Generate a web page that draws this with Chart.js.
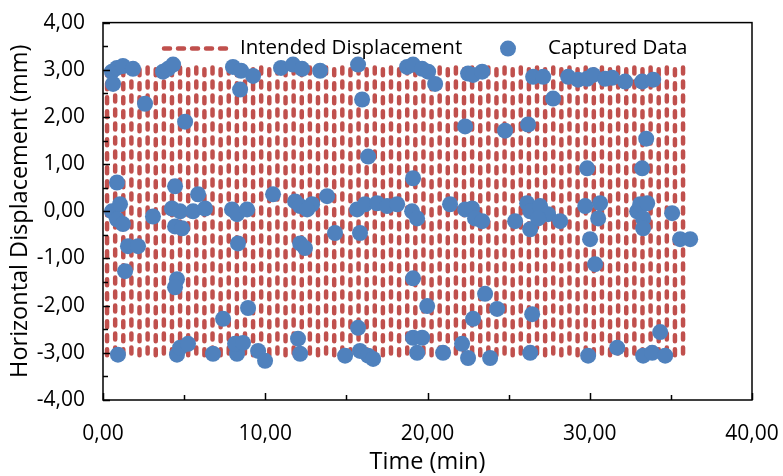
<!DOCTYPE html>
<html>
<head>
<meta charset="utf-8">
<title>Horizontal displacement vs time</title>
<script src="https://cdn.jsdelivr.net/npm/chart.js@4/dist/chart.umd.min.js"></script>
<style>
  html, body { margin: 0; padding: 0; background: #fff; }
  #wrap { width: 783px; height: 476px; position: relative; }
</style>
</head>
<body>
<div id="wrap"><canvas id="chart"></canvas></div>
<script>
'use strict';

/* ---- Data ---- */

// Intended displacement: each half-cycle shows as one vertical stroke
// between the two extremes; times (min) of the strokes
const intendedTime = [
  0.25, 0.75, 1.25, 1.75, 2.25, 2.75, 3.25, 3.75, 4.25, 4.75,
  5.25, 5.75, 6.25, 6.75, 7.25, 7.75, 8.25, 8.75, 9.25, 9.75,
  10.25, 10.75, 11.25, 11.75, 12.25, 12.75, 13.25, 13.75, 14.25, 14.75,
  15.25, 15.75, 16.25, 16.75, 17.25, 17.75, 18.25, 18.75, 19.25, 19.75,
  20.25, 20.75, 21.25, 21.75, 22.25, 22.75, 23.25, 23.75, 24.25, 24.75,
  25.25, 25.75, 26.25, 26.75, 27.25, 27.75, 28.25, 28.75, 29.25, 29.75,
  30.25, 30.75, 31.25, 31.75, 32.25, 32.75, 33.25, 33.75, 34.25, 34.75,
  35.25, 35.75
];
// extremes of the imposed motion (mm)
const intendedExtremes = [-3.05, 3.05];

// Captured data (time in min, displacement in mm)
const capturedTime = [
  0.55, 0.62, 0.86, 1.23, 1.85, 2.59, 3.70, 4.01, 4.32, 5.06,
  8.01, 8.51, 9.25, 8.45, 10.97, 11.71, 12.27, 13.38, 15.72, 15.97,
  16.34, 18.74, 19.11, 19.67, 20.04, 20.47, 22.32, 22.50, 22.81, 23.37,
  24.78, 26.20, 26.51, 27.13, 27.74, 28.67, 29.28, 29.84, 30.21, 30.95,
  31.38, 32.18, 33.23, 33.91, 33.48, 29.84, 33.23,
  0.86, 4.44, 5.86, 10.48, 0.55, 1.05, 0.86, 1.23, 3.08, 4.25,
  4.75, 5.55, 6.29, 4.44, 4.87, 7.95, 8.26, 8.88, 1.54, 2.16,
  8.32, 1.36, 4.56, 4.44, 8.94, 7.40, 0.92, 4.56, 4.75, 5.24,
  6.78, 8.26, 8.14, 8.63, 9.56, 9.99,
  11.84, 12.15, 12.89, 13.81, 12.58, 14.30, 15.84, 12.15, 12.45, 15.66,
  16.15, 16.89, 17.51, 18.13, 19.05, 19.36, 21.39, 22.32, 22.75, 22.93,
  19.11, 19.11, 19.98, 22.81, 15.72, 12.02, 12.15, 14.92, 15.84, 16.34,
  16.65, 19.11, 19.67, 19.36, 20.96, 22.13, 22.50,
  23.37, 25.40, 26.14, 26.33, 26.94, 27.43, 28.18, 26.33, 26.82, 29.72,
  30.64, 30.52, 30.02, 30.33, 32.92, 33.11, 33.54, 33.29, 33.29, 35.08,
  35.57, 36.19, 23.55, 24.29, 26.45, 34.34, 23.86, 26.33, 29.90, 31.69,
  33.29, 33.85, 34.65
];
const capturedDisp = [
  2.96, 2.70, 3.04, 3.08, 3.02, 2.28, 2.96, 3.02, 3.11, 1.90,
  3.06, 2.98, 2.87, 2.58, 3.04, 3.11, 3.02, 2.98, 3.11, 2.37,
  1.16, 3.06, 3.11, 3.02, 2.96, 2.70, 1.80, 2.92, 2.89, 2.96,
  1.71, 1.84, 2.85, 2.85, 2.39, 2.85, 2.79, 2.81, 2.89, 2.81,
  2.83, 2.75, 2.75, 2.79, 1.54, 0.91, 0.91,
  0.61, 0.53, 0.36, 0.36, 0.00, 0.15, -0.17, -0.27, -0.11, 0.06,
  0.00, 0.00, 0.06, -0.32, -0.36, 0.04, -0.06, 0.04, -0.74, -0.74,
  -0.68, -1.27, -1.44, -1.61, -2.05, -2.28, -3.04, -3.04, -2.89, -2.81,
  -3.02, -3.02, -2.81, -2.79, -2.96, -3.17,
  0.21, 0.11, 0.15, 0.32, 0.04, -0.46, -0.46, -0.68, -0.78, 0.04,
  0.15, 0.17, 0.11, 0.15, 0.00, -0.15, 0.15, 0.04, 0.06, -0.15,
  0.70, -1.42, -2.01, -2.28, -2.47, -2.70, -3.02, -3.06, -2.96, -3.06,
  -3.13, -2.68, -2.68, -3.00, -3.00, -2.81, -3.11,
  -0.21, -0.21, 0.17, 0.00, 0.11, -0.06, -0.21, -0.38, -0.15, 0.11,
  0.17, -0.15, -0.59, -1.12, 0.00, 0.15, 0.17, -0.15, -0.36, -0.04,
  -0.59, -0.59, -1.75, -2.07, -2.18, -2.56, -3.11, -3.00, -3.06, -2.89,
  -3.06, -3.00, -3.06
];

// Axis ticks
const xTicks = [0, 10, 20, 30, 40];
const xMinorTicks = [5, 15, 25, 35];
const yTicks = [-4, -3, -2, -1, 0, 1, 2, 3, 4];
const yMinorTicks = [-3.5, -2.5, -1.5, -0.5, 0.5, 1.5, 2.5, 3.5];

const seriesNames = ['Intended Displacement', 'Captured Data'];

/* ---- Styling ---- */
const RED  = '#C0504D';
const BLUE = '#4F81BD';
const INK  = '#000000';
const FONT = '"Open Sans", "Liberation Sans", sans-serif';
const DASH = [6, 8];

// European decimal comma, two decimals
const fmt = v => Number(v).toFixed(2).replace('.', ',');

// One stroke per half-cycle, alternating direction; null breaks the line
const intendedPoints = [];
intendedTime.forEach((t, i) => {
  const [a, b] = i % 2 ? [intendedExtremes[1], intendedExtremes[0]] : intendedExtremes;
  intendedPoints.push({ x: t, y: a }, { x: t, y: b }, { x: t, y: null });
});
const capturedPoints = capturedTime.map((t, i) => ({ x: t, y: capturedDisp[i] }));

/* ---- Plugins: plot frame with inside ticks, and in-plot legend ---- */
const frameTicks = {
  id: 'frameTicks',
  afterDatasetsDraw(chart) {
    const { ctx, chartArea: a, scales: { x, y } } = chart;
    ctx.save();
    ctx.strokeStyle = INK;
    ctx.lineWidth = 1.5;
    ctx.strokeRect(a.left, a.top, a.right - a.left, a.bottom - a.top);
    ctx.beginPath();
    const tickX = (vals, len) => vals.forEach(v => {
      const px = Math.round(x.getPixelForValue(v)) + 0.5;
      ctx.moveTo(px, a.bottom);
      ctx.lineTo(px, a.bottom - len);
    });
    const tickY = (vals, len) => vals.forEach(v => {
      const py = Math.round(y.getPixelForValue(v)) + 0.5;
      ctx.moveTo(a.left, py);
      ctx.lineTo(a.left + len, py);
    });
    tickX(xTicks, 7);
    tickX(xMinorTicks, 5);
    tickY(yTicks, 7);
    tickY(yMinorTicks, 5);
    ctx.stroke();
    ctx.restore();
  }
};

const plotLegend = {
  id: 'plotLegend',
  afterDatasetsDraw(chart) {
    const { ctx, chartArea: a } = chart;
    const cy = a.top + 26;
    ctx.save();
    ctx.font = `20.5px ${FONT}`;
    ctx.fillStyle = INK;
    ctx.textBaseline = 'middle';

    // dashed line sample
    ctx.strokeStyle = RED;
    ctx.lineWidth = 4.5;
    ctx.lineCap = 'round';
    ctx.setLineDash(DASH);
    ctx.beginPath();
    ctx.moveTo(a.left + 61, cy);
    ctx.lineTo(a.left + 130, cy);
    ctx.stroke();
    ctx.setLineDash([]);
    ctx.fillText(seriesNames[0], a.left + 137, cy);

    // marker sample
    ctx.fillStyle = BLUE;
    ctx.beginPath();
    ctx.arc(a.left + 405, cy, 8, 0, Math.PI * 2);
    ctx.fill();
    ctx.fillStyle = INK;
    ctx.fillText(seriesNames[1], a.left + 445, cy);
    ctx.restore();
  }
};

/* ---- Chart ---- */
new Chart(document.getElementById('chart'), {
  type: 'scatter',
  data: {
    datasets: [
      {
        label: seriesNames[1],
        data: capturedPoints,
        backgroundColor: BLUE,
        borderColor: BLUE,
        pointRadius: 8,
        pointBorderWidth: 0,
        order: 1,
      },
      {
        label: seriesNames[0],
        data: intendedPoints,
        showLine: true,
        spanGaps: false,
        borderColor: RED,
        borderWidth: 4.5,
        borderDash: DASH,
        borderCapStyle: 'round',
        pointRadius: 0,
        order: 2,
      },
    ],
  },
  options: {
    responsive: true,
    maintainAspectRatio: false,
    animation: false,
    events: [],
    layout: { padding: { top: 20, right: 31, left: 0, bottom: 0 } },
    plugins: {
      legend: { display: false },
      tooltip: { enabled: false },
    },
    scales: {
      x: {
        type: 'linear',
        min: 0,
        max: 40,
        afterBuildTicks: s => { s.ticks = xTicks.map(v => ({ value: v })); },
        afterFit: s => { s.height = 76; s.paddingLeft = 0; s.paddingRight = 0; },
        grid: { display: false },
        border: { display: false },
        ticks: {
          color: INK,
          padding: 13,
          maxRotation: 0,
          font: { family: FONT, size: 21 },
          callback: fmt,
        },
        title: {
          display: true,
          text: 'Time (min)',
          color: INK,
          padding: { top: 0, bottom: 0 },
          font: { family: FONT, size: 23.5 },
        },
      },
      y: {
        min: -4,
        max: 4,
        afterBuildTicks: s => { s.ticks = yTicks.map(v => ({ value: v })); },
        afterFit: s => { s.width = 103; },
        grid: { display: false },
        border: { display: false },
        ticks: {
          color: INK,
          padding: 10,
          font: { family: FONT, size: 21 },
          callback: fmt,
        },
        title: {
          display: true,
          text: 'Horizontal Displacement (mm)',
          color: INK,
          padding: { top: 6, bottom: 0 },
          font: { family: FONT, size: 23.5 },
        },
      },
    },
  },
  plugins: [frameTicks, plotLegend],
});
</script>
</body>
</html>
